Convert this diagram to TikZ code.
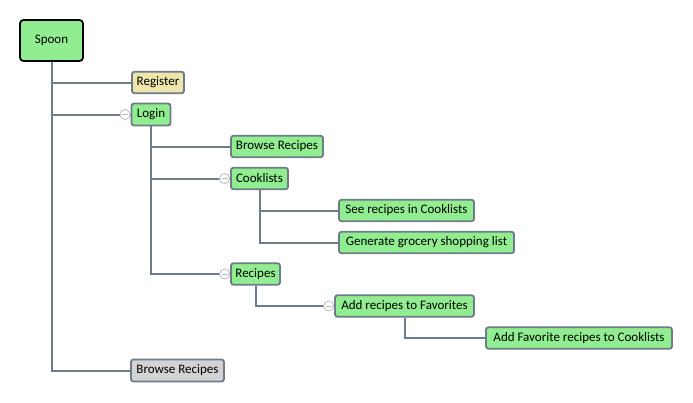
\documentclass[tikz,border=0pt]{standalone}
\usepackage{fontspec}
\setmainfont{Carlito}
\definecolor{nodegreen}{HTML}{90EE90}
\definecolor{nodeyellow}{HTML}{EEE6AA}
\definecolor{nodegray}{HTML}{D3D3D3}
\definecolor{edgegray}{HTML}{6E7B8B}
\definecolor{circgray}{HTML}{BBBBBB}
\pgfdeclarelayer{canvas}
\pgfdeclarelayer{background}
\pgfsetlayers{canvas,background,main}
\tikzset{
  topic/.style={draw=edgegray, line width=1.8pt, rounded corners=2.5pt, fill=nodegreen,
    inner sep=0pt, minimum height=21.5pt, font=\fontsize{13}{15}\selectfont, text=black},
  rootbox/.style={topic, draw=black, rounded corners=3.5pt},
  conn/.style={draw=edgegray, line width=2pt},
  collapse/.style={circle, draw=circgray, fill=white, line width=0.8pt, minimum size=10pt, inner sep=0pt,
    path picture={\draw[circgray, line width=0.8pt] ([xshift=-3pt]path picture bounding box.center) -- ([xshift=3pt]path picture bounding box.center);}},
}
\begin{document}
\begin{tikzpicture}[x=1pt,y=-1pt]
\begin{pgfonlayer}{canvas}
\useasboundingbox[fill=white] (0,0) rectangle (693,402);
\end{pgfonlayer}
% nodes (centers in pixel coords)
\node[rootbox, minimum width=63pt, minimum height=41pt] (spoon) at (51.5,40.5) {Spoon};
\node[topic, fill=nodeyellow, minimum width=52pt] (register) at (158,82.5) {Register};
\node[topic, minimum width=39pt, minimum height=22pt] (login) at (151,114.5) {Login};
\node[topic, minimum width=92pt] (browse1) at (277,146.5) {Browse Recipes};
\node[topic, minimum width=57pt] (cook) at (259.5,178.5) {Cooklists};
\node[topic, minimum width=135pt] (see) at (406.5,210.5) {See recipes in Cooklists};
\node[topic, minimum width=175pt] (gen) at (426.5,242.5) {Generate grocery shopping list};
\node[topic, minimum width=49pt] (recipes) at (255.5,274) {Recipes};
\node[topic, minimum width=139pt] (addfav) at (404.5,306) {Add recipes to Favorites};
\node[topic, minimum width=186pt] (addcook) at (579,338) {Add Favorite recipes to Cooklists};
\node[topic, fill=nodegray, minimum width=93pt, minimum height=22pt] (browse2) at (177.5,370.5) {Browse Recipes};
% connectors
\begin{pgfonlayer}{background}
\draw[conn] (spoon.south) |- (register.west);
\draw[conn] (spoon.south) |- (login.west);
\draw[conn] (spoon.south) |- (browse2.west);
\draw[conn] (login.south) |- (browse1.west);
\draw[conn] (login.south) |- (cook.west);
\draw[conn] (login.south) |- (recipes.west);
\draw[conn] (cook.south) |- (see.west);
\draw[conn] (cook.south) |- (gen.west);
\draw[conn] (recipes.south) |- (addfav.west);
\draw[conn] (addfav.south) |- (addcook.west);
\end{pgfonlayer}
% collapse markers
\node[collapse] (c1) at ([xshift=-5.5pt]login.west) {};
\node[collapse] (c2) at ([xshift=-5.5pt]cook.west) {};
\node[collapse] (c3) at ([xshift=-5.5pt]recipes.west) {};
\node[collapse] (c4) at ([xshift=-5.5pt]addfav.west) {};
\end{tikzpicture}
\end{document}
